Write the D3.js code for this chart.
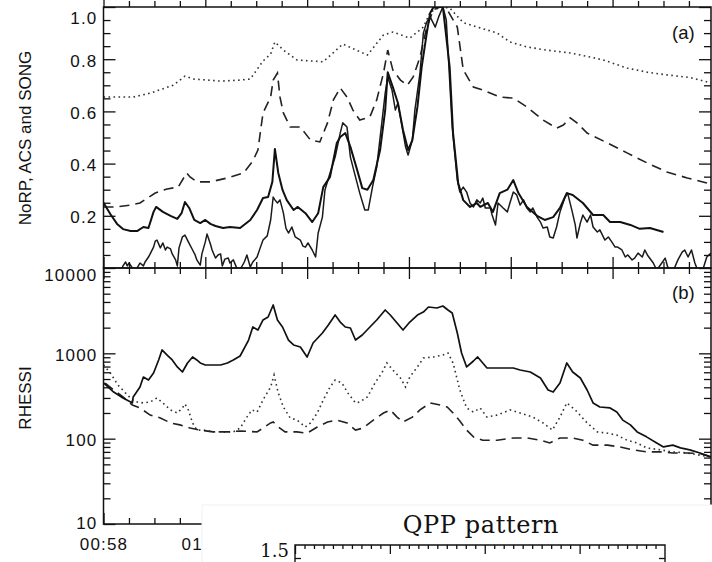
<!DOCTYPE html>
<html><head><meta charset="utf-8">
<script src="https://cdn.jsdelivr.net/npm/d3@7"></script>
<style>
body{margin:0;background:#fff}
svg{display:block}
.ax .tick text{font-family:"Liberation Sans",Arial,sans-serif;font-size:17px;letter-spacing:1.2px;fill:#111}
.ax .tick line{stroke:#111;stroke-width:1.3}
.ax .domain{display:none}
</style></head><body>
<svg id="chart" width="712" height="562"></svg>
<script>
// Time stamps are seconds after 00:58:00 UT; top-panel curves are normalised fluxes.
const normSmooth = [[0,0.25],[8,0.207],[16,0.169],[23,0.149],[32,0.142],[40,0.142],[47,0.157],[53,0.153],[59,0.215],[62,0.234],[70,0.215],[79,0.2],[87,0.188],[92,0.21],[96,0.253],[101,0.23],[107,0.184],[114,0.172],[120,0.184],[126,0.169],[132,0.161],[141,0.153],[149,0.157],[161,0.153],[173,0.184],[181,0.222],[188,0.268],[194,0.272],[199,0.33],[202,0.456],[206,0.364],[211,0.299],[216,0.26],[224,0.222],[229,0.234],[238,0.21],[246,0.176],[253,0.21],[259,0.31],[267,0.349],[275,0.479],[279,0.502],[285,0.517],[291,0.464],[299,0.375],[305,0.306],[311,0.3],[318,0.337],[326,0.452],[332,0.605],[335,0.75],[341,0.693],[347,0.632],[353,0.529],[359,0.452],[364,0.49],[370,0.617],[375,0.77],[381,0.9],[385,0.977],[389,1.0],[400,1.0],[408,0.77],[412,0.517],[418,0.326],[424,0.26],[432,0.234],[440,0.249],[444,0.234],[453,0.249],[459,0.215],[467,0.287],[476,0.3],[483,0.337],[489,0.287],[499,0.234],[511,0.2],[520,0.184],[530,0.195],[538,0.23],[546,0.287],[553,0.28],[565,0.249],[577,0.203],[589,0.203],[597,0.176],[609,0.176],[621,0.165],[632,0.15],[644,0.153],[660,0.138]];

const normNoisy = [[0,-0.065],[8,-0.046],[15,-0.031],[20,-0.015],[23,0.008],[26,0.023],[28,0.008],[30,0.019],[34,0.0],[37,-0.015],[41,0.008],[43,0.019],[47,0.008],[49,0.023],[53,0.042],[55,0.054],[59,0.08],[61,0.103],[63,0.107],[67,0.077],[70,0.096],[73,0.069],[75,0.08],[79,0.073],[81,0.054],[85,0.031],[87,0.008],[89,0.077],[93,0.119],[96,0.126],[100,0.1],[105,0.069],[108,0.05],[110,0.031],[114,0.011],[116,0.054],[120,0.1],[122,0.13],[126,0.092],[128,0.069],[132,0.038],[135,0.05],[138,0.054],[140,0.008],[143,0.034],[147,0.038],[149,0.019],[153,0.031],[156,0.008],[159,-0.015],[162,0.0],[166,0.023],[169,0.05],[173,0.004],[176,0.023],[181,0.042],[185,0.08],[188,0.107],[193,0.123],[197,0.184],[200,0.272],[202,0.261],[205,0.249],[208,0.261],[212,0.211],[215,0.153],[218,0.134],[222,0.157],[226,0.119],[232,0.107],[235,0.084],[238,0.08],[241,0.096],[246,0.069],[250,0.042],[253,0.134],[258,0.195],[261,0.299],[267,0.364],[273,0.425],[279,0.517],[282,0.556],[287,0.54],[291,0.425],[297,0.349],[302,0.287],[308,0.222],[312,0.222],[317,0.31],[322,0.387],[328,0.556],[332,0.67],[335,0.732],[340,0.682],[344,0.605],[347,0.632],[352,0.54],[356,0.464],[359,0.433],[364,0.49],[367,0.605],[373,0.747],[377,0.9],[381,0.943],[385,0.962],[391,0.923],[395,0.962],[400,1.0],[404,0.95],[406,0.835],[411,0.54],[417,0.337],[420,0.291],[424,0.31],[428,0.291],[432,0.249],[436,0.234],[440,0.261],[444,0.249],[447,0.268],[450,0.23],[456,0.23],[458,0.203],[462,0.165],[465,0.249],[471,0.23],[476,0.215],[479,0.249],[483,0.291],[487,0.28],[491,0.241],[495,0.261],[499,0.23],[503,0.215],[506,0.23],[511,0.195],[515,0.176],[518,0.153],[523,0.157],[526,0.119],[530,0.115],[534,0.157],[538,0.215],[544,0.272],[547,0.287],[552,0.222],[556,0.165],[558,0.115],[562,0.172],[565,0.203],[570,0.176],[574,0.203],[577,0.157],[582,0.138],[585,0.146],[591,0.107],[595,0.119],[599,0.1],[603,0.08],[606,0.08],[611,0.069],[615,0.042],[618,0.05],[623,0.031],[626,0.038],[630,0.057],[635,0.042],[638,0.069],[641,0.05],[648,0.019],[652,-0.008],[658,0.019],[662,0.038],[665,0.004],[671,-0.015],[677,0.031],[682,0.061],[685,0.069],[689,0.042],[693,0.069],[697,0.019],[701,-0.015],[707,0.0],[711,0.042],[716,0.057]];

const normDashed = [[0,0.234],[14,0.234],[32,0.241],[43,0.249],[61,0.287],[75,0.303],[88,0.31],[98,0.364],[102,0.349],[110,0.33],[126,0.33],[146,0.345],[165,0.364],[176,0.41],[182,0.452],[188,0.594],[197,0.655],[200,0.72],[205,0.747],[208,0.655],[212,0.594],[220,0.54],[232,0.54],[244,0.49],[255,0.483],[264,0.556],[271,0.644],[279,0.69],[287,0.655],[294,0.605],[302,0.567],[314,0.579],[322,0.644],[330,0.747],[335,0.835],[341,0.759],[350,0.72],[358,0.7],[365,0.732],[373,0.808],[381,0.923],[389,0.99],[397,1.0],[405,0.99],[417,0.923],[424,0.759],[436,0.693],[447,0.682],[467,0.655],[483,0.651],[499,0.617],[518,0.567],[534,0.536],[542,0.548],[550,0.575],[558,0.556],[570,0.517],[594,0.479],[617,0.441],[641,0.402],[664,0.368],[688,0.345],[711,0.326],[716,0.318]];

const normDotted = [[0,0.655],[8,0.655],[35,0.655],[55,0.67],[82,0.7],[96,0.735],[106,0.724],[138,0.716],[161,0.72],[173,0.724],[188,0.793],[197,0.82],[202,0.866],[212,0.835],[228,0.797],[259,0.79],[282,0.858],[311,0.816],[330,0.893],[341,0.904],[361,0.881],[377,0.923],[385,0.98],[397,1.0],[408,0.996],[424,0.94],[444,0.92],[464,0.9],[479,0.866],[499,0.847],[522,0.835],[550,0.824],[574,0.808],[589,0.797],[617,0.766],[641,0.75],[664,0.74],[691,0.73],[716,0.709]];

// RHESSI count rates
const rhessiSolid = [[0,450],[12,352],[23,300],[32,269],[34,262],[35,308],[43,403],[47,528],[53,487],[59,588],[65,836],[69,1095],[75,955],[81,836],[87,692],[93,604],[99,771],[105,906],[110,836],[114,771],[120,730],[138,730],[146,771],[153,836],[161,931],[171,1432],[176,2036],[182,1876],[188,2460],[194,2668],[200,3685],[205,2460],[211,2036],[218,1432],[224,1254],[232,1186],[240,906],[247,1322],[258,1730],[265,2148],[273,2813],[279,2328],[285,2036],[291,1981],[297,1432],[305,1640],[314,2036],[322,2460],[332,3219],[338,2813],[346,2265],[353,1876],[361,2328],[370,2813],[377,3045],[383,3490],[393,3396],[400,3587],[406,3219],[411,2969],[417,1730],[422,1010],[428,692],[436,813],[441,906],[447,771],[452,673],[467,673],[483,673],[491,638],[503,604],[515,514],[524,372],[530,352],[538,449],[546,771],[553,604],[562,514],[570,372],[577,262],[585,235],[597,229],[605,205],[612,165],[621,145],[629,120],[640,105],[652,89],[660,80],[671,84],[680,78],[691,74],[703,68],[716,61]];

const rhessiDotted = [[0,730],[8,588],[17,426],[26,343],[34,284],[40,269],[47,262],[55,269],[63,300],[70,262],[79,217],[87,200],[93,229],[96,255],[100,217],[105,153],[110,126],[118,126],[129,120],[141,120],[153,120],[161,133],[169,179],[175,217],[181,205],[188,284],[197,403],[201,557],[206,343],[212,235],[220,175],[228,165],[238,137],[244,153],[252,200],[259,284],[267,403],[273,487],[281,449],[288,343],[297,262],[302,269],[311,308],[320,449],[328,588],[334,771],[341,638],[350,514],[356,403],[361,528],[370,692],[377,881],[389,906],[400,955],[406,1010],[412,771],[420,372],[428,229],[436,205],[444,229],[452,179],[464,189],[479,217],[491,200],[506,179],[518,153],[529,126],[538,179],[546,262],[556,217],[570,153],[582,120],[594,116],[605,110],[617,96],[629,89],[640,78],[656,74],[671,70],[688,68],[703,64],[716,61]];

const rhessiDashed = [[2,449],[12,372],[23,308],[34,248],[43,229],[55,189],[67,175],[79,153],[90,145],[102,133],[114,126],[129,120],[146,120],[161,123],[181,120],[188,133],[197,153],[200,157],[206,137],[214,120],[228,120],[240,116],[252,137],[264,157],[275,165],[287,153],[297,126],[306,133],[318,165],[330,200],[338,217],[346,179],[353,157],[364,179],[373,217],[385,262],[397,248],[405,235],[412,200],[420,161],[428,126],[436,105],[447,96],[464,96],[483,102],[499,102],[515,96],[526,89],[538,102],[553,102],[565,96],[577,84],[594,84],[609,80],[624,74],[640,70],[656,70],[671,68],[688,68],[703,67],[716,61]];

const topMajorTicks = [0.2, 0.4, 0.6, 0.8, 1.0];
const botMajorTicks = [10, 100, 1000, 10000];
const timeLabelsShown = ["00:58", "01:00"];
const qppTitle = "QPP pattern";

const svg = d3.select("#chart");
const L = 103.5, R = 711, T = 7, MID = 268, B = 524;

const t0 = new Date(2000, 0, 1, 0, 58, 0);
const toDate = s => new Date(t0.getTime() + s * 1000);
const x = d3.scaleTime().domain([t0, toDate(716)]).range([L, R]);
const yTop = d3.scaleLinear().domain([0, 1]).range([MID, T]);
const yBot = d3.scaleLog().domain([10, 10000]).range([B, MID]);

const xMajor = d3.timeMinute.every(2).range(t0, toDate(717));
const xMinor = d3.timeSecond.every(30).range(t0, toDate(717)).filter(d => d.getSeconds() !== 0 || d.getMinutes() % 2 !== 0);

const defs = svg.append("defs");
defs.append("clipPath").attr("id", "clipTop").append("rect").attr("x", L).attr("y", T).attr("width", R - L).attr("height", MID - T);
defs.append("clipPath").attr("id", "clipBot").append("rect").attr("x", L).attr("y", MID).attr("width", R - L).attr("height", B - MID);

// ---- data curves ----
const lineTop = d3.line().x(d => x(toDate(d[0]))).y(d => yTop(d[1]));
const lineBot = d3.line().x(d => x(toDate(d[0]))).y(d => yBot(d[1]));

const gTop = svg.append("g").attr("clip-path", "url(#clipTop)");
gTop.append("path").datum(normDotted).attr("d", lineTop).attr("fill", "none").attr("stroke", "#333").attr("stroke-width", 1.6).attr("stroke-dasharray", "1.6,3.4");
gTop.append("path").datum(normDashed).attr("d", lineTop).attr("fill", "none").attr("stroke", "#222").attr("stroke-width", 1.6).attr("stroke-dasharray", "10,6");
gTop.append("path").datum(normNoisy).attr("d", lineTop).attr("fill", "none").attr("stroke", "#1a1a1a").attr("stroke-width", 1.5).attr("stroke-linejoin", "round");
gTop.append("path").datum(normSmooth).attr("d", lineTop).attr("fill", "none").attr("stroke", "#111").attr("stroke-width", 2).attr("stroke-linejoin", "round");

const gBot = svg.append("g").attr("clip-path", "url(#clipBot)");
gBot.append("path").datum(rhessiDotted).attr("d", lineBot).attr("fill", "none").attr("stroke", "#333").attr("stroke-width", 1.6).attr("stroke-dasharray", "1.6,3.4");
gBot.append("path").datum(rhessiDashed).attr("d", lineBot).attr("fill", "none").attr("stroke", "#222").attr("stroke-width", 1.6).attr("stroke-dasharray", "10,6");
gBot.append("path").datum(rhessiSolid).attr("d", lineBot).attr("fill", "none").attr("stroke", "#111").attr("stroke-width", 1.7).attr("stroke-linejoin", "round");

// ---- axes ----
function ax(gen, tx, ty) {
  return svg.append("g").attr("class", "ax").attr("transform", `translate(${tx},${ty})`).call(gen);
}
const blank = () => "";
const topMinor = d3.range(0.05, 1.0, 0.05).filter(v => Math.abs(v * 5 - Math.round(v * 5)) > 1e-6);
const botMinor = [];
[10, 100, 1000].forEach(dec => { for (let k = 2; k <= 9; k++) botMinor.push(dec * k); });

// top panel
const aTL = ax(d3.axisLeft(yTop).tickValues(topMajorTicks).tickSize(-12).tickPadding(6).tickFormat(d3.format(".1f")), L, 0);
aTL.selectAll(".tick text").attr("dy", d => d === 1.0 ? "0.95em" : "0.42em");
ax(d3.axisLeft(yTop).tickValues(topMinor).tickSize(-7).tickFormat(blank), L, 0);
ax(d3.axisRight(yTop).tickValues(topMajorTicks).tickSize(-12).tickFormat(blank), R, 0);
ax(d3.axisRight(yTop).tickValues(topMinor).tickSize(-7).tickFormat(blank), R, 0);
ax(d3.axisBottom(x).tickValues(xMajor).tickSize(-11).tickFormat(blank), 0, T);
ax(d3.axisBottom(x).tickValues(xMinor).tickSize(-6).tickFormat(blank), 0, T);
ax(d3.axisTop(x).tickValues(xMajor).tickSize(-11).tickFormat(blank), 0, MID);
ax(d3.axisTop(x).tickValues(xMinor).tickSize(-6).tickFormat(blank), 0, MID);

// bottom panel
const aBL = ax(d3.axisLeft(yBot).tickValues(botMajorTicks).tickSize(-12).tickPadding(6).tickFormat(d3.format("d")), L, 0);
aBL.selectAll(".tick text").attr("dy", d => d === 10000 ? "0.72em" : (d === 10 ? "0.25em" : "0.42em"));
ax(d3.axisLeft(yBot).tickValues(botMinor).tickSize(-7).tickFormat(blank), L, 0);
ax(d3.axisRight(yBot).tickValues(botMajorTicks).tickSize(-12).tickFormat(blank), R, 0);
ax(d3.axisRight(yBot).tickValues(botMinor).tickSize(-7).tickFormat(blank), R, 0);
ax(d3.axisBottom(x).tickValues(xMajor).tickSize(-11).tickFormat(blank), 0, MID);
ax(d3.axisBottom(x).tickValues(xMinor).tickSize(-6).tickFormat(blank), 0, MID);
const fmtHM = d3.timeFormat("%H:%M");
ax(d3.axisBottom(x).tickValues(xMajor).tickSize(-11).tickPadding(14)
  .tickFormat(d => timeLabelsShown.includes(fmtHM(d)) ? fmtHM(d) : ""), 0, B);
ax(d3.axisBottom(x).tickValues(xMinor).tickSize(-6).tickFormat(blank), 0, B);

// frames
svg.append("rect").attr("x", L).attr("y", T).attr("width", R - L).attr("height", MID - T).attr("fill", "none").attr("stroke", "#111").attr("stroke-width", 1.5);
svg.append("rect").attr("x", L).attr("y", MID).attr("width", R - L).attr("height", B - MID).attr("fill", "none").attr("stroke", "#111").attr("stroke-width", 1.5);

// axis titles and panel tags
const sans = "'Liberation Sans', Arial, sans-serif";
svg.append("text").attr("transform", "translate(31,138) rotate(-90)").attr("text-anchor", "middle").attr("font-family", sans).attr("font-size", 17).attr("fill", "#111").text("NoRP, ACS and SONG");
svg.append("text").attr("transform", "translate(31,398) rotate(-90)").attr("text-anchor", "middle").attr("font-family", sans).attr("font-size", 17).attr("fill", "#111").text("RHESSI");
svg.append("text").attr("x", 672).attr("y", 39).attr("font-family", sans).attr("font-size", 18.5).attr("fill", "#111").text("(a)");
svg.append("text").attr("x", 672).attr("y", 299).attr("font-family", sans).attr("font-size", 18.5).attr("fill", "#111").text("(b)");

// ---- QPP inset overlaying the lower right (it hides the rest of the time axis) ----
svg.append("rect").attr("x", 202).attr("y", 505).attr("width", 540).attr("height", 80).attr("fill", "#fff").attr("stroke", "#f2f2f2").attr("stroke-width", 1);
const serif = "'DejaVu Serif', serif";
svg.append("text").attr("x", 481).attr("y", 533).attr("text-anchor", "middle").attr("font-family", serif).attr("font-size", 24).attr("letter-spacing", "0.6px").attr("fill", "#111").text(qppTitle);

const qx = d3.scaleLinear().domain([0, 3.9]).range([295, 665]);
const qy = d3.scaleLinear().domain([0.5, 1.5]).range([675, 545]);
const qMinor = d3.range(1, 39).map(i => i / 10).filter(v => Math.abs(v - Math.round(v)) > 1e-6);
ax(d3.axisBottom(qx).tickValues([0, 1, 2, 3]).tickSize(9).tickFormat(blank), 0, 545);
ax(d3.axisBottom(qx).tickValues(qMinor).tickSize(4).tickFormat(blank), 0, 545);
const qL = ax(d3.axisLeft(qy).tickValues([1.5]).tickSize(0).tickPadding(6).tickFormat(d3.format(".1f")), 295, 0);
qL.selectAll(".tick text").style("font-family", serif).style("font-size", "18px").style("letter-spacing", "0px").attr("dy", "0.62em");
ax(d3.axisLeft(qy).tickValues([1.4]).tickSize(-6).tickFormat(blank), 295, 0);
ax(d3.axisRight(qy).tickValues([1.4]).tickSize(-6).tickFormat(blank), 665, 0);
svg.append("path").attr("d", `M${qx(0)},${570}V545H${qx(3.9)}V570`).attr("fill", "none").attr("stroke", "#111").attr("stroke-width", 1.4);
</script>
</body></html>
